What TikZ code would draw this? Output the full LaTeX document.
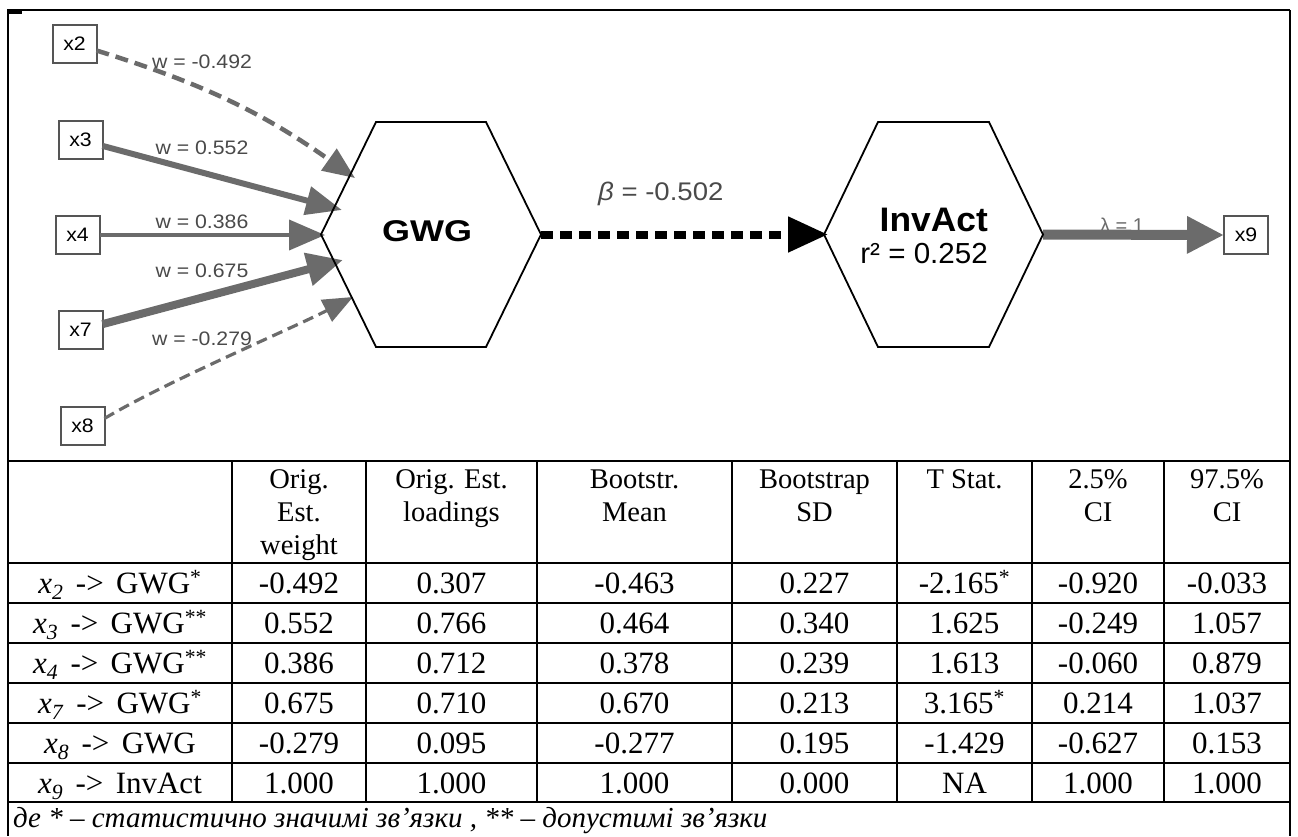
\documentclass[tikz,border=0pt]{standalone}
\usepackage{fontspec}
\usepackage{graphicx}
\setmainfont{Liberation Serif}
\newfontfamily\arialf{Liberation Sans}
\usetikzlibrary{arrows.meta}
\definecolor{edgegray}{HTML}{6B6B6B}
\definecolor{boxgray}{HTML}{555555}
\definecolor{labgray}{HTML}{4A4A4A}
\newcommand{\setfsz}[1]{\fontsize{#1pt}{#1pt}\selectfont}
\newcommand{\wid}[1]{\scalebox{1.09}[1]{#1}}
\newcommand{\xsub}[1]{\textit{x}\textsubscript{\textit{#1}}}
\newcommand{\arr}{\hspace{0.4em}->\hspace{0.4em}}
\newcommand{\hexoutline}[2]{%
  \draw[hexline] (#1.west) -- ([xshift=#2]#1.north west) -- ([xshift=-#2]#1.north east)
    -- (#1.east) -- ([xshift=-#2]#1.south east) -- ([xshift=#2]#1.south west) -- cycle;}
\begin{document}
\begin{tikzpicture}[x=1pt, y=-1pt,
  frameline/.style={line width=2.6pt, black},
  tabline/.style={line width=2.4pt, black},
  hexline/.style={line width=1.8pt, black, line join=miter},
  hexnode/.style={minimum width=#1, minimum height=225pt, inner sep=0pt, outer sep=0pt},
  obs/.style={draw=boxgray, line width=2pt, fill=white, minimum width=44pt,
    minimum height=38pt, inner sep=0pt, outer sep=0pt, font=\arialf\setfsz{19.5}},
  wlab/.style={text=labgray, font=\arialf\setfsz{19.5}, inner sep=0pt, anchor=base},
  wedge/.style={draw=edgegray},
  hd/.style={font=\setfsz{28.5}, anchor=base, inner sep=0pt},
  cell/.style={font=\setfsz{31}, anchor=base, inner sep=0pt},
  foot/.style={font=\itshape\setfsz{29}, anchor=base west, inner sep=0pt}]
\useasboundingbox (0,0) rectangle (1298,836);

% outer frame and table rules
\draw[frameline] (8,10) -- (1290,10);
\fill[black] (7,9) rectangle (22,13.5);
\draw[frameline] (8,10) -- (8,836);
\draw[frameline] (1290,10) -- (1290,836);
\foreach \yy in {461,563,603,643,683,723,763,802}
  \draw[tabline] (8,\yy) -- (1290,\yy);
\foreach \xx in {232,366,537,732,897,1032,1164}
  \draw[tabline] (\xx,461) -- (\xx,802);

% indicator boxes
\node[obs] (x2) at (74.5,44) {\wid{x2}};
\node[obs] (x3) at (80.5,140) {\wid{x3}};
\node[obs] (x4) at (77.5,235) {\wid{x4}};
\node[obs] (x7) at (80.5,330) {\wid{x7}};
\node[obs] (x8) at (82.5,425.5) {\wid{x8}};
\node[obs] (x9) at (1246,235) {\wid{x9}};

% constructs
\node[hexnode=220pt] (gwg) at (431,234.5) {};
\node[hexnode=219pt] (inv) at (933.5,234.5) {};
\node[anchor=base, inner sep=0pt, font=\arialf\bfseries\setfsz{30}] (gwglab) at (427,241) {\scalebox{1.2}[1]{GWG}};
\node[anchor=base east, inner sep=0pt, font=\arialf\bfseries\setfsz{34}] (invlab) at (988,231) {\scalebox{1.04}[1]{InvAct}};
\node[anchor=base east, inner sep=0pt, font=\arialf\setfsz{29}] (r2lab) at (988,263) {\scalebox{1.02}[1]{r² = 0.252}};

% arrow tips on the construct outline
\coordinate (t2) at (355,178);
\coordinate (t3) at (342,210);
\coordinate (t4) at (325,235);
\coordinate (t7) at (343,260);
\coordinate (t8) at (353,297);
\coordinate (tb) at (828,234.5);

% weight labels
\node[wlab] (w2) at (202,68) {\wid{w = -0.492}};
\node[wlab] (w3) at (202,154) {\wid{w = 0.552}};
\node[wlab] (w4) at (202,228) {\wid{w = 0.386}};
\node[wlab] (w7) at (202,277) {\wid{w = 0.675}};
\node[wlab] (w8) at (202,345) {\wid{w = -0.279}};
\node[anchor=base west, inner sep=0pt, text=labgray, font=\arialf\setfsz{25.5}] (blab) at (598,200) {\scalebox{1.08}[1]{\textit{β} = -0.502}};
\node[anchor=base, inner sep=0pt, text=edgegray, font=\arialf\setfsz{20}] (llab) at (1122,232) {λ = 1};

% paths
\draw[wedge, line width=4.5pt, dash pattern=on 13pt off 7pt, -{Triangle[length=32pt,width=26pt]}] (x2) to[bend left=9] (t2);
\draw[wedge, line width=6pt, -{Triangle[length=36pt,width=28pt]}] (x3) -- (t3);
\draw[wedge, line width=4pt, -{Triangle[length=36pt,width=30pt]}] (x4) -- (t4);
\draw[wedge, line width=8pt, -{Triangle[length=36pt,width=32pt]}] (x7) -- (t7);
\draw[wedge, line width=3.2pt, dash pattern=on 11pt off 6pt, -{Triangle[length=30pt,width=24pt]}]
  ([yshift=7pt]x8.east) .. controls +(60,-36) and +(-60,31) .. (t8);
\draw[black, line width=8pt, dash pattern=on 12pt off 7pt, -{Triangle[length=40pt,width=34pt]}] (gwg.east) -- (tb);
\draw[wedge, line width=10pt, -{Triangle[length=37pt,width=35pt]}] (inv.east) -- (x9.west);

\hexoutline{gwg}{55pt}
\hexoutline{inv}{54pt}

% table header
\node[hd] (h2a) at (299,488) {Orig.};
\node[hd] (h2b) at (299,521) {Est.};
\node[hd] (h2c) at (299,554) {weight};
\node[hd] (h3a) at (451.5,488) {Orig. Est.};
\node[hd] (h3b) at (451.5,521) {loadings};
\node[hd] (h4a) at (634.5,488) {Bootstr.};
\node[hd] (h4b) at (634.5,521) {Mean};
\node[hd] (h5a) at (814.5,488) {Bootstrap};
\node[hd] (h5b) at (814.5,521) {SD};
\node[hd] (h6a) at (964.5,488) {T Stat.};
\node[hd] (h7a) at (1098,488) {2.5\%};
\node[hd] (h7b) at (1098,521) {CI};
\node[hd] (h8a) at (1227,488) {97.5\%};
\node[hd] (h8b) at (1227,521) {CI};

% table body
\foreach \rw/\lab/\ca/\cb/\cc/\cd/\ce/\cf/\cg in {
 1/{\xsub{2}\arr GWG\textsuperscript{*}}/-0.492/0.307/-0.463/0.227/{-2.165\textsuperscript{*}}/-0.920/-0.033,
 2/{\xsub{3}\arr GWG\textsuperscript{**}}/0.552/0.766/0.464/0.340/1.625/-0.249/1.057,
 3/{\xsub{4}\arr GWG\textsuperscript{**}}/0.386/0.712/0.378/0.239/1.613/-0.060/0.879,
 4/{\xsub{7}\arr GWG\textsuperscript{*}}/0.675/0.710/0.670/0.213/{3.165\textsuperscript{*}}/0.214/1.037,
 5/{\xsub{8}\arr GWG}/-0.279/0.095/-0.277/0.195/-1.429/-0.627/0.153,
 6/{\xsub{9}\arr InvAct}/1.000/1.000/1.000/0.000/NA/1.000/1.000}
{
  \pgfmathsetmacro\yb{593.5+40*(\rw-1)}
  \node[cell] (r\rw-c1) at (120,\yb) {\lab};
  \node[cell] (r\rw-c2) at (299,\yb) {\ca};
  \node[cell] (r\rw-c3) at (451.5,\yb) {\cb};
  \node[cell] (r\rw-c4) at (634.5,\yb) {\cc};
  \node[cell] (r\rw-c5) at (814.5,\yb) {\cd};
  \node[cell] (r\rw-c6) at (964.5,\yb) {\ce};
  \node[cell] (r\rw-c7) at (1098,\yb) {\cf};
  \node[cell] (r\rw-c8) at (1227,\yb) {\cg};
}

% footnote
\node[foot] (note) at (13,827) {де * – статистично значимі зв’язки , ** – допустимі зв’язки};
\end{tikzpicture}
\end{document}
